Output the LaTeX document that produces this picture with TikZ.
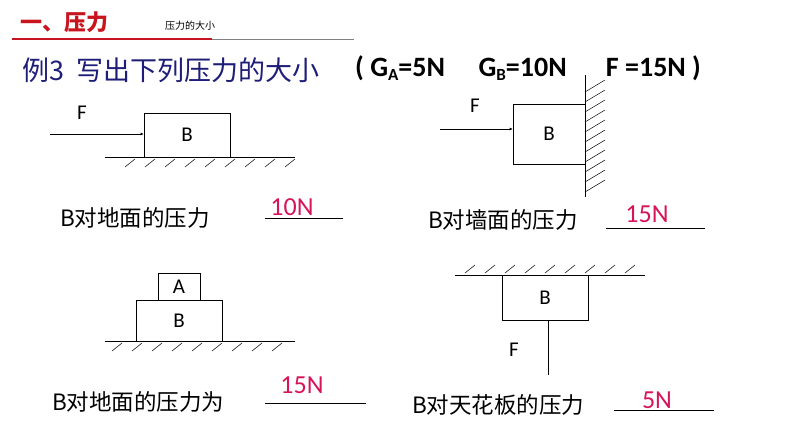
\documentclass[tikz,border=0pt]{standalone}
\usepackage{fontspec}
\setmainfont{Carlito}
\newfontfamily\cjk{Noto Sans CJK SC}
\usetikzlibrary{positioning,arrows.meta}
\definecolor{titlered}{RGB}{200,20,30}
\definecolor{navy}{RGB}{30,30,120}
\definecolor{ansred}{RGB}{215,20,90}
\tikzset{
  blockbox/.style={draw,line width=0.6pt,inner sep=0pt,font=\fontsize{21}{21}\selectfont},
  lbl/.style={inner sep=1pt,font=\fontsize{21}{21}\selectfont},
  question/.style={inner sep=0pt,anchor=west,font=\cjk\fontsize{22.5}{22.5}\selectfont},
  answer/.style={inner sep=0pt,text=ansred,font=\fontsize{26}{26}\selectfont},
  hatch/.style={line width=0.5pt},
  push/.style={line width=0.6pt,-{Latex[length=3pt,width=3pt]}}
}
\begin{document}
\begin{tikzpicture}[x=1pt,y=-1pt]
\useasboundingbox (0,0) rectangle (794,447);
% header
\node[anchor=west,inner sep=0pt,text=titlered,font=\cjk\bfseries\fontsize{22}{22}\selectfont] (head) at (20,22) {一、压力};
\node[anchor=west,inner sep=0pt,font=\cjk\fontsize{10}{10}\selectfont] (sub) at (165,26) {压力的大小};
\draw[titlered,line width=2pt] (12,39) -- (212,39);
\draw[gray,line width=0.6pt] (212,39) -- (354,39);
\node[anchor=west,inner sep=0pt,text=navy,font=\cjk\fontsize{27}{27}\selectfont] (task) at (22,70) {例3\ \ 写出下列压力的大小};
\node[anchor=west,inner sep=0pt,font=\bfseries\fontsize{28}{28}\selectfont] (given) at (355,68)
  {( G\raisebox{-0.3ex}{\fontsize{17}{17}\selectfont A}=5N\hspace{1.2em}G\raisebox{-0.3ex}{\fontsize{17}{17}\selectfont B}=10N\hspace{1.4em}F =15N )};

% figure 1: block on ground, pushed
\node[blockbox,minimum width=86pt,minimum height=44pt] (b1) at (187,135) {B};
\draw[line width=0.6pt] (105,157) -- (295,157);
\foreach \x in {125,145,...,285} \draw[hatch] (\x,167) -- (\x+10,159);
\coordinate (f1) at (50,134);
\draw[push] (f1) -- (b1.west|-f1);
\node[lbl] (lf1) at (82,113) {F};
\node[question] (q1) at (60,218) {B对地面的压力};
\node[answer] (a1) at (292,207) {10N};
\draw[line width=0.6pt] (265,218) -- (343,218);

% figure 2: block against wall
\node[blockbox,minimum width=72pt,minimum height=60pt] (b2) at (549,134) {B};
\draw[line width=0.6pt] (585,75) -- (585,197);
\foreach \y in {84,94,...,184} \draw[hatch] (585,\y+8) -- (605,\y-4);
\coordinate (f2) at (440,129);
\draw[push] (f2) -- (b2.west|-f2);
\node[lbl] (lf2) at (475,106) {F};
\node[question] (q2) at (428,220) {B对墙面的压力};
\node[answer] (a2) at (647,214) {15N};
\draw[line width=0.6pt] (606,228) -- (705,228);

% figure 3: A stacked on B
\node[blockbox,minimum width=86pt,minimum height=41pt] (b3) at (179,321) {B};
\node[blockbox,minimum width=42pt,minimum height=27pt,above=0pt of b3] (a3) {A};
\draw[line width=0.6pt] (105,341) -- (295,341);
\foreach \x in {112,132,...,272} \draw[hatch] (\x,351) -- (\x+10,343);
\node[question] (q3) at (52,402) {B对地面的压力为};
\node[answer] (a3n) at (302,385) {15N};
\draw[line width=0.6pt] (265,403) -- (366,403);

% figure 4: block under ceiling
\node[blockbox,minimum width=86pt,minimum height=45pt] (b4) at (545,298) {B};
\draw[line width=0.6pt] (455,275) -- (645,275);
\foreach \x in {465,485,...,635} \draw[hatch] (\x,273) -- (\x+10,265);
\coordinate (f4) at (548,375);
\draw[line width=0.6pt] (b4.south-|f4) -- (f4);
\node[lbl] (lf4) at (514,350) {F};
\node[question] (q4) at (412,405) {B对天花板的压力};
\node[answer] (a4) at (657,400) {5N};
\draw[line width=0.6pt] (614,410) -- (714,410);
\end{tikzpicture}
\end{document}
